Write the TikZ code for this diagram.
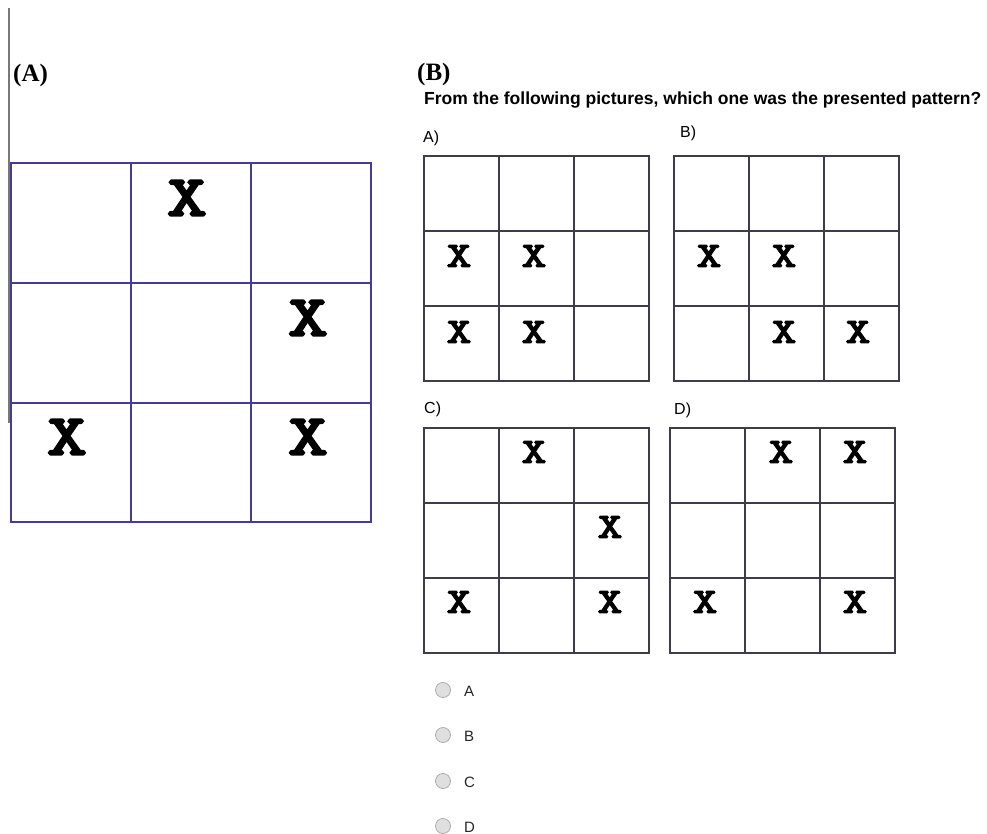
\documentclass[tikz,border=0pt]{standalone}
\usepackage{fontspec}
\setmainfont{Liberation Serif}
\setsansfont{Liberation Sans}
\newfontfamily\xfont{Latin Modern Mono}[FakeBold=4.5, FakeStretch=1.35]
\definecolor{biggrid}{RGB}{70,60,152}
\definecolor{smallgridc}{RGB}{60,60,78}
\definecolor{sideline}{RGB}{120,120,120}
\begin{document}
\begin{tikzpicture}[x=1pt,y=-1pt,
  panellabel/.style={inner sep=0, font=\fontsize{25}{25}\selectfont\bfseries, anchor=west},
  question/.style={inner sep=0, font=\sffamily\bfseries\fontsize{17.5}{20}\selectfont, anchor=base west},
  optlabel/.style={inner sep=0, font=\sffamily\fontsize{16}{18}\selectfont, anchor=west},
  bigx/.style={inner sep=0, font=\xfont\bfseries\fontsize{57}{57}\selectfont},
  smallx/.style={inner sep=0, font=\xfont\bfseries\fontsize{35}{35}\selectfont},
  biggridline/.style={draw=biggrid, line width=1.8pt},
  smallgridline/.style={draw=smallgridc, line width=1.2pt},
  radio/.style={circle, draw=gray!65, fill=gray!25, minimum size=15pt, inner sep=0, line width=0.8pt},
  radiolabel/.style={inner sep=0, font=\sffamily\fontsize{15}{18}\selectfont, text=black!85, anchor=west},
  smallgrid/.pic={
    \draw[smallgridline] (0,0) rectangle (225,225);
    \foreach \k in {75,150} {
      \draw[smallgridline] (\k,0) -- (\k,225);
      \draw[smallgridline] (0,\k) -- (225,\k);
    }
  }]
\useasboundingbox (0,0) rectangle (987,834);
\fill[white] (0,0) rectangle (987,834);
% left vertical rule
\draw[sideline, line width=1.5pt] (9,8) -- (9,423);
% panel labels
\node[panellabel] (labA) at (13,75) {(A)};
\node[panellabel] (labB) at (417,74) {(B)};
% big grid
\draw[biggridline] (11,163) rectangle (371,522);
\foreach \xx in {131,251} \draw[biggridline] (\xx,163) -- (\xx,522);
\foreach \yy in {283,403} \draw[biggridline] (11,\yy) -- (371,\yy);
\node[bigx] (bx1) at (187,198) {X};
\node[bigx] (bx2) at (308,318) {X};
\node[bigx] (bx3) at (67,437) {X};
\node[bigx] (bx4) at (308,437) {X};
% question
\node[question] (q) at (424,105) {From the following pictures, which one was the presented pattern?};
\node[optlabel] (oA) at (423,138) {A)};
\node[optlabel] (oB) at (680,133) {B)};
\node[optlabel] (oC) at (424,409) {C)};
\node[optlabel] (oD) at (674,410) {D)};
% small grids
\pic at (424,156) {smallgrid};
\pic at (674,156) {smallgrid};
\pic at (424,428) {smallgrid};
\pic at (670,428) {smallgrid};
% grid A crosses
\node[smallx] (a1) at (459,256) {X};
\node[smallx] (a2) at (534,256) {X};
\node[smallx] (a3) at (459,332) {X};
\node[smallx] (a4) at (534,332) {X};
% grid B crosses
\node[smallx] (b1) at (709,256) {X};
\node[smallx] (b2) at (784,256) {X};
\node[smallx] (b3) at (784,332) {X};
\node[smallx] (b4) at (858,332) {X};
% grid C crosses
\node[smallx] (c1) at (534,452) {X};
\node[smallx] (c2) at (610,527) {X};
\node[smallx] (c3) at (459,602) {X};
\node[smallx] (c4) at (610,602) {X};
% grid D crosses
\node[smallx] (d1) at (781,452) {X};
\node[smallx] (d2) at (855,452) {X};
\node[smallx] (d3) at (705,602) {X};
\node[smallx] (d4) at (855,602) {X};
% radio buttons
\node[radio] (r1) at (443,690) {};
\node[radio] (r2) at (443,735) {};
\node[radio] (r3) at (443,781) {};
\node[radio] (r4) at (443,826) {};
\node[radiolabel] (t1) at (464,691) {A};
\node[radiolabel] (t2) at (464,736) {B};
\node[radiolabel] (t3) at (464,782) {C};
\node[radiolabel] (t4) at (464,827) {D};
\end{tikzpicture}
\end{document}
